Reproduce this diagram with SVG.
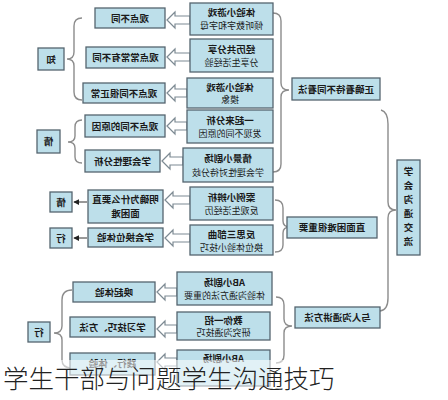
<svg xmlns="http://www.w3.org/2000/svg" width="448" height="400" viewBox="0 0 448 400">
<defs>
<style>
.b{fill:#bddfea;stroke:#55656f;stroke-width:1.3}
.t{font-family:"Noto Sans CJK SC","Noto Sans",sans-serif;font-size:9.5px;font-weight:bold;fill:#1a1a1a;text-anchor:middle}
.s{font-weight:normal;font-size:9px}
.br{fill:none;stroke:#8c8c8c;stroke-width:1.4}
.ha{fill:#fff;stroke:#7d8a93;stroke-width:1.2}
.ln{stroke:#333;stroke-width:1;fill:none}
</style>
<marker id="ah" viewBox="0 0 8 8" refX="7" refY="4" markerWidth="6" markerHeight="6" orient="auto"><path d="M0,0 L8,4 L0,8 Z" fill="#222"/></marker>
</defs>
<rect width="448" height="400" fill="#fff"/>

<g id="connectors">
<path class="br" d="M82,18 Q74,18 74,26 L74,52 Q74,59 67,59 Q74,59 74,66 L74,92 Q74,100 82,100"/>
<path class="br" d="M82,120 Q75,120 75,127 L75,136 Q75,142 68,142 Q75,142 75,148 L75,157 Q75,163 82,163"/>
<path class="br" d="M72,290 Q62,290 62,300 L62,326 Q62,333 54,333 Q62,333 62,340 L62,360 Q62,368 72,368"/>
<path class="br" d="M273,13 Q281,13 281,21 L281,83 Q281,90 289,90 Q281,90 281,97 L281,164 Q281,172 273,172"/>
<path class="br" d="M275,200 Q283,200 283,208 L283,221 Q283,227 290,227 Q283,227 283,233 L283,245 Q283,252 275,252"/>
<path class="br" d="M276,297 Q284,297 284,305 L284,319 Q284,326 292,326 Q284,326 284,333 L284,355 Q284,363 276,363"/>
<path class="br" d="M381,110 Q388,112 388,124 L388,202 Q388,210 396,210 Q388,210 388,218 L388,298 Q388,310 380,311"/>
<path class="ha" d="M167,20 L175,12 L175,16 L190,16 L190,24 L175,24 L175,28 Z"/>
<path class="ha" d="M167,57 L175,49 L175,53 L190,53 L190,61 L175,61 L175,65 Z"/>
<path class="ha" d="M167,93 L175,85 L175,89 L187,89 L187,97 L175,97 L175,101 Z"/>
<path class="ha" d="M167,126 L175,118 L175,122 L187,122 L187,130 L175,130 L175,134 Z"/>
<path class="ha" d="M162,161 L170,153 L170,157 L183,157 L183,165 L170,165 L170,169 Z"/>
<path class="ha" d="M165,200 L173,192 L173,196 L190,196 L190,204 L173,204 L173,208 Z"/>
<path class="ha" d="M165,238 L173,230 L173,234 L190,234 L190,242 L173,242 L173,246 Z"/>
<path class="ha" d="M157,292 L165,284 L165,288 L177,288 L177,296 L165,296 L165,300 Z"/>
<path class="ha" d="M157,329 L165,321 L165,325 L177,325 L177,333 L165,333 L165,337 Z"/>
<path class="ha" d="M157,362 L165,354 L165,358 L177,358 L177,366 L165,366 L165,370 Z"/>
<path class="ln" d="M87,202 L74,202" marker-end="url(#ah)"/>
<path class="ln" d="M87,238 L74,238" marker-end="url(#ah)"/>
</g>

<g id="root"><rect class="b" x="397" y="160" width="23" height="95"/>
<text class="t" transform="scale(-1,1)" font-size="11"><tspan x="-408.5" y="175">学</tspan><tspan x="-408.5" dy="14">会</tspan><tspan x="-408.5" dy="14">沟</tspan><tspan x="-408.5" dy="14">通</tspan><tspan x="-408.5" dy="14">交</tspan><tspan x="-408.5" dy="14">流</tspan></text></g>

<g id="r1"><rect class="b" x="292" y="78" width="88" height="22"/><text class="t" transform="scale(-1,1)" x="-336" y="93">正确看待不同看法</text></g>
<g id="r2"><rect class="b" x="287" y="217" width="90" height="21"/><text class="t" transform="scale(-1,1)" x="-332" y="231">直面困难很重要</text></g>
<g id="r3"><rect class="b" x="295" y="307" width="85" height="21"/><text class="t" transform="scale(-1,1)" x="-337.5" y="321">与人沟通讲方法</text></g>

<g id="m1"><rect class="b" x="190" y="3" width="83" height="32"/><text class="t" transform="scale(-1,1)" x="-231.5" y="16">体验小游戏</text><text class="t s" transform="scale(-1,1)" x="-231.5" y="29">倾听数字和字母</text></g>
<g id="m2"><rect class="b" x="190" y="39" width="83" height="33"/><text class="t" transform="scale(-1,1)" x="-231.5" y="53">经历共分享</text><text class="t s" transform="scale(-1,1)" x="-231.5" y="66">分享生活经验</text></g>
<g id="m3"><rect class="b" x="187" y="78" width="86" height="30"/><text class="t" transform="scale(-1,1)" x="-230" y="91">体验小游戏</text><text class="t s" transform="scale(-1,1)" x="-230" y="103">摸象</text></g>
<g id="m4"><rect class="b" x="187" y="110" width="86" height="33"/><text class="t" transform="scale(-1,1)" x="-230" y="124">一起来分析</text><text class="t s" transform="scale(-1,1)" x="-230" y="137">发现不同的原因</text></g>
<g id="m5"><rect class="b" x="183" y="148" width="90" height="34"/><text class="t" transform="scale(-1,1)" x="-228" y="162">情景小剧场</text><text class="t s" transform="scale(-1,1)" x="-228" y="176">学会理性对待分歧</text></g>
<g id="m6"><rect class="b" x="190" y="187" width="83" height="33"/><text class="t" transform="scale(-1,1)" x="-231.5" y="201">案例小辨析</text><text class="t s" transform="scale(-1,1)" x="-231.5" y="214">反观生活经历</text></g>
<g id="m7"><rect class="b" x="190" y="225" width="83" height="30"/><text class="t" transform="scale(-1,1)" x="-231.5" y="238">反思三部曲</text><text class="t s" transform="scale(-1,1)" x="-231.5" y="251">换位体验小技巧</text></g>
<g id="m8"><rect class="b" x="177" y="272" width="95" height="33"/><text class="t" transform="scale(-1,1)" x="-224.5" y="286">AB小剧场</text><text class="t s" transform="scale(-1,1)" x="-224.5" y="299">体验沟通方法的重要</text></g>
<g id="m9"><rect class="b" x="177" y="312" width="93" height="28"/><text class="t" transform="scale(-1,1)" x="-223.5" y="324">教你一招</text><text class="t s" transform="scale(-1,1)" x="-223.5" y="336">研究沟通技巧</text></g>
<g id="m10"><rect class="b" x="177" y="350" width="93" height="36"/><text class="t" transform="scale(-1,1)" x="-223.5" y="362">AB小剧场</text></g>

<g id="l1"><rect class="b" x="95" y="8" width="70" height="20"/><text class="t" transform="scale(-1,1)" x="-130" y="21.5">观点不同</text></g>
<g id="l2"><rect class="b" x="86" y="47" width="79" height="21"/><text class="t" transform="scale(-1,1)" x="-125.5" y="61">观点常常有不同</text></g>
<g id="l3"><rect class="b" x="83" y="83" width="82" height="20"/><text class="t" transform="scale(-1,1)" x="-124" y="96.5">观点不同很正常</text></g>
<g id="l4"><rect class="b" x="85" y="115" width="80" height="22"/><text class="t" transform="scale(-1,1)" x="-125" y="129.5">观点不同的原因</text></g>
<g id="l5"><rect class="b" x="85" y="150" width="75" height="22"/><text class="t" transform="scale(-1,1)" x="-122.5" y="164.5">学会理性分析</text></g>
<g id="l6"><rect class="b" x="88" y="190" width="75" height="33"/><text class="t" transform="scale(-1,1)" x="-125.5" y="203">明确为什么要直</text><text class="t" transform="scale(-1,1)" x="-125.5" y="217">面困难</text></g>
<g id="l7"><rect class="b" x="88" y="228" width="75" height="19"/><text class="t" transform="scale(-1,1)" x="-125.5" y="241">学会换位体验</text></g>
<g id="l8"><rect class="b" x="73" y="282" width="82" height="20"/><text class="t" transform="scale(-1,1)" x="-114" y="295.5">唤起体验</text></g>
<g id="l9"><rect class="b" x="70" y="317" width="85" height="20"/><text class="t" transform="scale(-1,1)" x="-112.5" y="330.5">学习技巧、方法</text></g>
<g id="l10"><rect class="b" x="70" y="353" width="85" height="22"/><text class="t" transform="scale(-1,1)" x="-112.5" y="367">践行、体验</text></g>

<g id="k1"><rect class="b" x="38" y="48" width="26" height="22"/><text class="t" transform="scale(-1,1)" x="-51" y="63">知</text></g>
<g id="k2"><rect class="b" x="37" y="130" width="23" height="23"/><text class="t" transform="scale(-1,1)" x="-48.5" y="145">情</text></g>
<g id="k3"><rect class="b" x="50" y="192" width="22" height="20"/><text class="t" transform="scale(-1,1)" x="-61" y="206">情</text></g>
<g id="k4"><rect class="b" x="50" y="228" width="22" height="20"/><text class="t" transform="scale(-1,1)" x="-61" y="242">行</text></g>
<g id="k5"><rect class="b" x="28" y="322" width="22" height="20"/><text class="t" transform="scale(-1,1)" x="-39" y="336">行</text></g>

<rect x="0" y="360" width="448" height="40" fill="#fff" opacity="0.55"/>
<text x="3" y="388" font-family="'Noto Sans CJK SC','Noto Sans',sans-serif" font-size="25.5" font-weight="300" fill="#222">学生干部与问题学生沟通技巧</text>
</svg>
